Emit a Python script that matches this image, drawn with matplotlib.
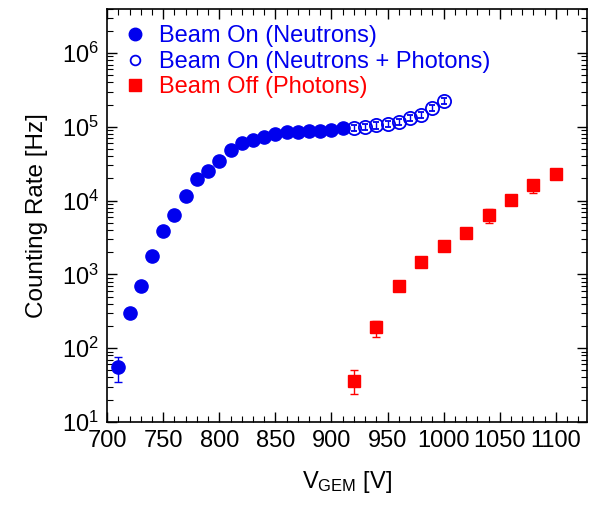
import numpy as np
import matplotlib
matplotlib.use('Agg')
import matplotlib.pyplot as plt
from matplotlib.lines import Line2D
from matplotlib.ticker import MultipleLocator, LogLocator

plt.rcParams['font.family'] = ['Liberation Sans', 'DejaVu Sans']
plt.rcParams['mathtext.default'] = 'regular'

# beam on, neutrons only (filled)
v_on = [710, 720, 730, 740, 750, 760, 770, 780, 790, 800, 810,
        820, 830, 840, 850, 860, 870, 880, 890, 900, 910]
r_on = [56, 300, 700, 1750, 3900, 6300, 11500, 19500, 25000, 34000, 49000,
        60000, 66000, 73000, 80000, 84000, 86000, 88000, 89000, 92000, 96000]
e_on = [21, 20, 40, 80, 150, 250, 400, 600, 800, 1000, 1500,
        1800, 2000, 2200, 2400, 2500, 2600, 2600, 2700, 2800, 2900]

# beam on, neutrons + photons (open)
v_np = [920, 930, 940, 950, 960, 970, 980, 990, 1000]
r_np = [97000, 101000, 105000, 109000, 117000, 132000, 147000, 180000, 225000]
e_np = [9000, 9500, 10000, 10500, 11000, 12500, 14000, 17000, 21000]

# beam off, photons only
v_off = [920, 940, 960, 980, 1000, 1020, 1040, 1060, 1080, 1100]
r_off = [36, 193, 700, 1450, 2400, 3650, 6450, 10300, 16100, 23000]
e_lo = [12, 50, 60, 100, 150, 250, 1400, 700, 3400, 1500]
e_hi = [15, 40, 60, 100, 150, 250, 1200, 700, 1500, 1500]

blue = '#0000ee'
red = '#ff0000'

fig = plt.figure(figsize=(5.95, 5.12), dpi=100)
ax = fig.add_axes([0.180, 0.176, 0.807, 0.807])

ax.errorbar(v_on, r_on, yerr=e_on, fmt='o', color=blue, ms=9.5,
            capsize=3, elinewidth=1)
ax.errorbar(v_np, r_np, yerr=e_np, fmt='o', color=blue, mfc='none', ms=9.5,
            mew=1.3, capsize=2, elinewidth=1)
ax.errorbar(v_off, r_off, yerr=[e_lo, e_hi], fmt='s', color=red, ms=9,
            capsize=3, elinewidth=1)

ax.set_yscale('log')
ax.set_xlim(700, 1128)
ax.set_ylim(10, 4e6)
ax.xaxis.set_major_locator(MultipleLocator(50))
ax.xaxis.set_minor_locator(MultipleLocator(10))
ax.yaxis.set_major_locator(LogLocator(base=10, numticks=10))
ax.yaxis.set_minor_locator(LogLocator(base=10, subs=np.arange(2, 10), numticks=20))
ax.tick_params(which='both', direction='in', top=True, right=True, labelsize=17, pad=6)
ax.tick_params(which='major', length=7, width=1)
ax.tick_params(which='minor', length=4, width=0.8)
for s in ax.spines.values():
    s.set_linewidth(1.2)

ax.set_xlabel('V$_{GEM}$ [V]', fontsize=17, labelpad=12)
ax.set_ylabel('Counting Rate [Hz]', fontsize=17.5, labelpad=10)

handles = [
    Line2D([], [], marker='o', ls='none', color=blue, ms=9),
    Line2D([], [], marker='o', ls='none', color=blue, mfc='none', ms=7, mew=1.3),
    Line2D([], [], marker='s', ls='none', color=red, ms=8.5),
]
labels = ['Beam On (Neutrons)', 'Beam On (Neutrons + Photons)', 'Beam Off (Photons)']
leg = ax.legend(handles, labels, loc='upper left', frameon=False, fontsize=17,
                handlelength=1.0, handletextpad=0.5, labelspacing=0.15,
                borderaxespad=0.3)
for t, c in zip(leg.get_texts(), [blue, blue, red]):
    t.set_color(c)

fig.savefig('out.png', dpi=100)
